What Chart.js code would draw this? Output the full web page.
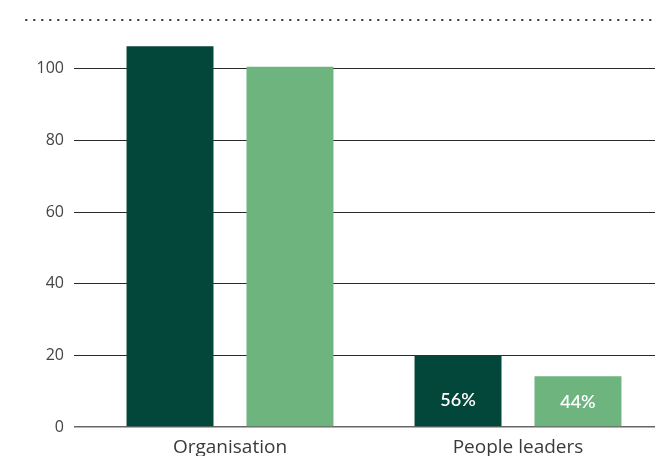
<!DOCTYPE html>
<html lang="en">
<head>
  <meta charset="UTF-8" />
  <title>Organisation vs People leaders</title>
  <script src="https://cdn.jsdelivr.net/npm/chart.js"></script>
  <style>
    html, body { margin: 0; padding: 0; background: #fff; overflow: hidden; }
    #wrap { position: relative; width: 662px; height: 456px; }
  </style>
</head>
<body>
  <div id="wrap"><canvas id="barChart"></canvas></div>

  <script>
    const categories = ["Organisation", "People leaders"];
    const seriesA = [106.3, 20.1];
    const seriesB = [100.6, 14.2];
    const labelsA = ["", "56%"];
    const labelsB = ["", "44%"];
    const yTicks = [0, 20, 40, 60, 80, 100];

    const darkGreen = '#03463a';
    const lightGreen = '#6db47e';

    // dotted rule across the top
    const topRule = {
      id: 'topRule',
      afterDraw(chart) {
        const ctx = chart.ctx;
        ctx.save();
        ctx.strokeStyle = '#333';
        ctx.lineWidth = 2;
        ctx.lineCap = 'round';
        ctx.setLineDash([0.5, 7.5]);
        ctx.beginPath();
        ctx.moveTo(26, 20);
        ctx.lineTo(chart.width, 20);
        ctx.stroke();
        ctx.restore();
      }
    };

    // percentage labels inside bars
    const barText = {
      id: 'barText',
      afterDatasetsDraw(chart) {
        const ctx = chart.ctx;
        const all = [labelsA, labelsB];
        ctx.save();
        ctx.fillStyle = '#fff';
        ctx.font = '600 18px Lato';
        ctx.textAlign = 'center';
        ctx.textBaseline = 'middle';
        chart.data.datasets.forEach((ds, i) => {
          chart.getDatasetMeta(i).data.forEach((bar, j) => {
            const txt = all[i][j];
            if (!txt) return;
            const y = chart.scales.y.getPixelForValue(7.5);
            ctx.fillText(txt, bar.x, y + (i === 1 ? 2 : 0));
          });
        });
        ctx.restore();
      }
    };

    new Chart(document.getElementById('barChart'), {
      type: 'bar',
      data: {
        labels: categories,
        datasets: [
          { data: seriesA, backgroundColor: darkGreen },
          { data: seriesB, backgroundColor: lightGreen }
        ]
      },
      options: {
        responsive: true,
        maintainAspectRatio: false,
        animation: false,
        layout: { padding: { top: 33, left: 0, right: 0, bottom: 0 } },
        categoryPercentage: 0.833,
        barPercentage: 0.725,
        plugins: { legend: { display: false }, tooltip: { enabled: false } },
        scales: {
          x: {
            grid: { display: false, drawTicks: false },
            border: { display: false },
            ticks: { color: '#3a3a3a', font: { family: 'Open Sans', size: 19 }, padding: 9 },
            afterFit(scale) { scale.height = 29; }
          },
          y: {
            min: 0,
            max: 110,
            afterBuildTicks(scale) { scale.ticks = yTicks.map(v => ({ value: v })); },
            ticks: { color: '#444', font: { family: 'Open Sans', size: 16 }, padding: 10 },
            grid: {
              color: ctx => ctx.tick && ctx.tick.value === 0 ? '#666' : '#2a2a2a',
              lineWidth: ctx => ctx.tick && ctx.tick.value === 0 ? 1.5 : 1,
              tickLength: 12,
              drawTicks: true
            },
            border: { display: false },
            afterFit(scale) { scale.width = 86; }
          }
        }
      },
      plugins: [topRule, barText]
    });
  </script>
</body>
</html>
